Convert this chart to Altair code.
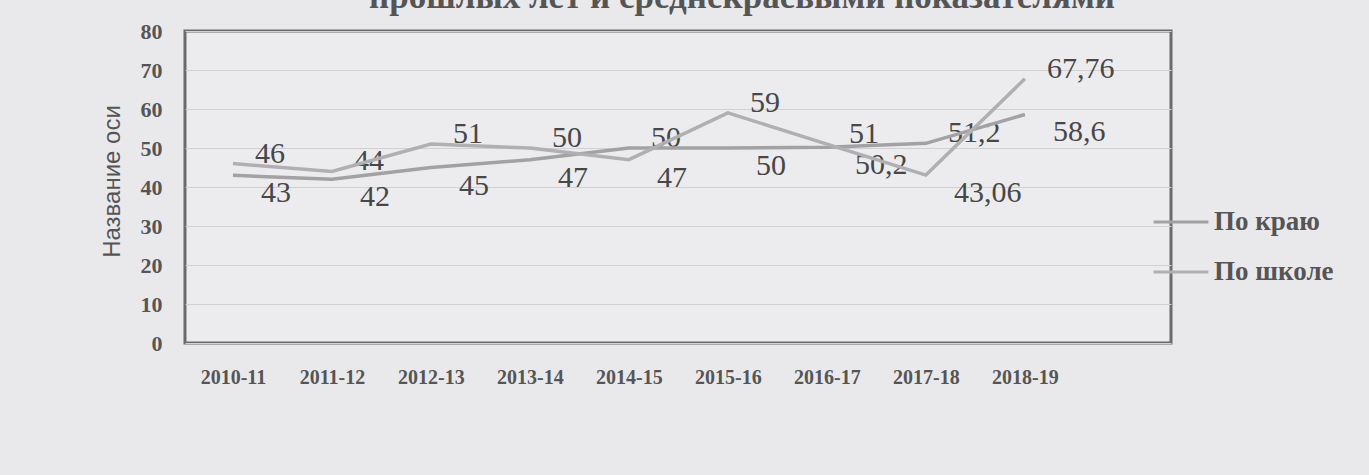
import altair as alt
import pandas as pd

seasons = ["2010-11", "2011-12", "2012-13", "2013-14", "2014-15",
           "2015-16", "2016-17", "2017-18", "2018-19"]
series_names = ["По краю", "По школе"]
krai = [43, 42, 45, 47, 50, 50, 50.2, 51.2, 58.6]
school = [46, 44, 51, 50, 47, 59, 51, 43.06, 67.76]
title_text = "прошлых лет и среднекраевыми показателями"
y_title = "Название оси"


def fmt(v):
    if float(v).is_integer():
        return str(int(v))
    return str(v).replace(".", ",")


rows = []
for i, s in enumerate(seasons):
    a, b = krai[i], school[i]
    for name, v, other in ((series_names[0], a, b), (series_names[1], b, a)):
        rows.append({
            "season": s,
            "series": name,
            "value": v,
            "label": fmt(v),
            "pos": "top" if v >= other else "bottom",
        })
df = pd.DataFrame(rows)

x_enc = alt.X(
    "season:N",
    sort=seasons,
    scale=alt.Scale(type="point", padding=0.98, align=0.247),
    axis=alt.Axis(
        title=None, labelAngle=0, ticks=False, domain=False, grid=False,
        labelFont="Liberation Serif", labelFontWeight="bold", labelFontSize=20,
        labelColor="#555555", labelPadding=34, labelBaseline="middle",
    ),
)
y_enc = alt.Y(
    "value:Q",
    scale=alt.Scale(domain=[0, 80], nice=False),
    axis=alt.Axis(
        values=list(range(0, 81, 10)), grid=True, gridColor="#d0d0d5", gridWidth=1,
        domain=False, ticks=False,
        labelFont="Liberation Serif", labelFontWeight="bold", labelFontSize=22,
        labelColor="#555555", labelPadding=23,
        title=y_title, titleFont="Liberation Sans", titleFontSize=24,
        titleFontWeight="normal", titleColor="#555555",
        titleX=-73, titleY=150, titleAngle=-90,
        titleAlign="center", titleBaseline="middle",
    ),
)

base = alt.Chart(df)

labels_top = base.transform_filter(alt.datum.pos == "top").mark_text(
    font="Liberation Serif", fontSize=30, color="#474747",
    align="left", baseline="middle", dx=22, dy=-10,
).encode(x=x_enc, y=y_enc, text="label:N")

labels_bottom = base.transform_filter(alt.datum.pos == "bottom").mark_text(
    font="Liberation Serif", fontSize=30, color="#474747",
    align="left", baseline="middle", dx=28, dy=18,
).encode(x=x_enc, y=y_enc, text="label:N")

lines = base.mark_line(strokeWidth=3.5).encode(
    x=x_enc,
    y=y_enc,
    color=alt.Color(
        "series:N",
        scale=alt.Scale(domain=series_names, range=["#a2a2a4", "#b0b0b2"]),
        legend=alt.Legend(
            title=None, orient="none", legendX=967, legendY=162,
            symbolType="stroke", symbolSize=3000, symbolStrokeWidth=3,
            labelFont="Liberation Serif", labelFontWeight="bold",
            labelFontSize=27, labelColor="#555555", labelOffset=4,
            rowPadding=8, labelLimit=300,
        ),
    ),
)

chart = alt.layer(labels_top, labels_bottom, lines).properties(
    width=986,
    height=312,
    autosize=alt.AutoSizeParams(type="none"),
    padding={"left": 185, "top": 31, "right": 198, "bottom": 132},
    background="#e9e9ec",
    title=alt.Title(
        title_text, font="Liberation Serif", fontWeight="bold", fontSize=35,
        color="#555555", frame="group", anchor="middle", orient="top",
        baseline="alphabetic", offset=6, dx=64, dy=29,
    ),
).configure_view(stroke="#6b6b6b", strokeWidth=3, fill="#ececef")

chart.save("out.html", embed_options={"renderer": "svg", "actions": False})
